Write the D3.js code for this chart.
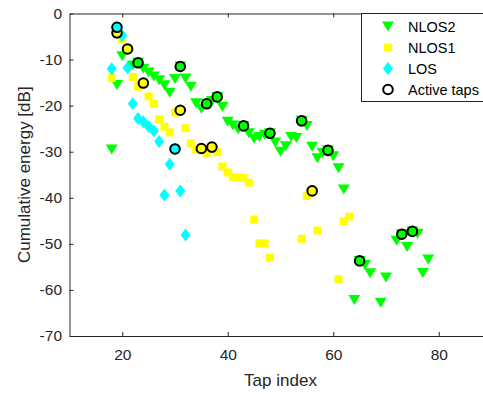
<!DOCTYPE html>
<html>
<head>
<meta charset="utf-8">
<script src="https://cdn.jsdelivr.net/npm/d3@7/dist/d3.min.js"></script>
<style>
  html, body { margin: 0; padding: 0; background: #fff; }
  svg { display: block; font-family: "Liberation Sans", Arial, Helvetica, sans-serif; }
</style>
</head>
<body>
<svg id="chart" width="483" height="394"></svg>
<script>
// Per-scenario taps: [tap index, cumulative energy in dB]
const nlos2 = [
  [18, -29.5], [19, -15.5], [20, -9.3], [22, -11.3], [23, -10.7], [24, -12.0], [25, -12.8],
  [26, -13.7], [27, -14.5], [28, -15.6], [29, -17.2], [30, -14.2], [31, -11.5], [32, -14.1],
  [33, -15.9], [34, -19.5], [35, -20.7], [36, -19.6], [37, -19.0], [38, -18.1], [39, -20.3],
  [40, -23.5], [41, -24.3], [42, -25.2], [43, -24.4], [44, -26.0], [45, -27.2], [46, -26.8],
  [47, -26.3], [48, -26.0], [49, -28.0], [50, -30.0], [51, -28.8], [52, -26.8], [53, -27.0],
  [54, -23.3], [55, -24.4], [56, -28.9], [57, -31.4], [58, -30.3], [59, -29.7], [60, -31.0],
  [61, -33.6], [62, -38.2], [64, -62.2], [65, -53.7], [66, -54.6], [67, -56.4], [69, -62.8],
  [70, -57.3], [72, -49.3], [73, -47.9], [74, -50.7], [75, -47.3], [76, -47.8], [77, -56.3],
  [78, -53.4]
];
const nlos1 = [
  [18, -14.0], [19, -4.2], [20, -5.5], [21, -7.7], [22, -13.8], [23, -15.9], [24, -15.1],
  [25, -18.0], [26, -19.6], [27, -23.0], [28, -24.6], [29, -25.8], [30, -21.5], [31, -21.0],
  [32, -24.9], [33, -28.2], [34, -29.6], [35, -29.3], [36, -30.3], [37, -29.0], [38, -30.1],
  [39, -33.2], [40, -34.5], [41, -35.5], [42, -35.6], [43, -35.7], [44, -36.7], [45, -44.7],
  [46, -49.9], [47, -49.9], [48, -53.0], [54, -48.9], [55, -39.6], [56, -38.5], [57, -47.1],
  [61, -57.7], [62, -45.1], [63, -44.1]
];
const los = [
  [18, -12.0], [19, -3.0], [20, -4.8], [21, -11.8], [22, -19.6], [23, -22.8], [24, -23.5],
  [25, -24.5], [26, -25.5], [27, -27.8], [28, -39.4], [29, -32.7], [30, -29.4], [31, -38.5],
  [32, -48.1]
];
// Taps selected as active in each scenario
const activeNlos2 = [23, 31, 36, 38, 43, 48, 54, 59, 65, 73, 75];
const activeNlos1 = [19, 21, 24, 31, 35, 37, 56];
const activeLos = [19, 30];

const xTicks = [20, 40, 60, 80];
const yTicks = [0, -10, -20, -30, -40, -50, -60, -70];
const legendLabels = ["NLOS2", "NLOS1", "LOS", "Active taps"];

const svg = d3.select("#chart");
const padL = 69.5, padR = 491.5, padT = 13.5, padB = 336;
const axisColor = "#262626";

const x = d3.scaleLinear().domain([10, 90]).range([padL, padR]);
const y = d3.scaleLinear().domain([-70, 0]).range([padB, padT]);

// Marker shapes
const triDown = (w, h) => `M${-w/2},${-h/2}L${w/2},${-h/2}L0,${h/2}Z`;
const square = s => `M${-s/2},${-s/2}h${s}v${s}h${-s}Z`;
const diamond = (w, h) => `M0,${-h/2}L${w/2},0L0,${h/2}L${-w/2},0Z`;

const series = [
  { data: nlos2, active: activeNlos2, color: "#00ff00", path: triDown(12, 10) },
  { data: nlos1, active: activeNlos1, color: "#ffff00", path: square(8) },
  { data: los,   active: activeLos,   color: "#00ffff", path: diamond(10, 13) }
];

const plot = svg.append("g");
series.forEach(s => {
  plot.append("g").selectAll("path").data(s.data).join("path")
    .attr("d", s.path)
    .attr("transform", d => `translate(${x(d[0])},${y(d[1])})`)
    .attr("fill", s.color);
});

// Active taps drawn as outlined circles over the markers
series.forEach(s => {
  const pts = s.data.filter(d => s.active.includes(d[0]));
  plot.append("g").selectAll("circle").data(pts).join("circle")
    .attr("cx", d => x(d[0]))
    .attr("cy", d => y(d[1]))
    .attr("r", 4.8)
    .attr("fill", s.color)
    .attr("stroke", "#000")
    .attr("stroke-width", 2);
});

// Axes (box style with inward ticks)
const fmt = d => String(d);
const gx = svg.append("g").attr("transform", `translate(0,${padB})`)
  .call(d3.axisBottom(x).tickValues(xTicks).tickFormat(fmt).tickSizeInner(-4).tickSizeOuter(0).tickPadding(13));
const gxTop = svg.append("g").attr("transform", `translate(0,${padT})`)
  .call(d3.axisTop(x).tickValues(xTicks).tickFormat("").tickSizeInner(-4).tickSizeOuter(0));
const gy = svg.append("g").attr("transform", `translate(${padL},0)`)
  .call(d3.axisLeft(y).tickValues(yTicks).tickFormat(fmt).tickSizeInner(-4).tickSizeOuter(0).tickPadding(7.5));
const gyRight = svg.append("g").attr("transform", `translate(${padR},0)`)
  .call(d3.axisRight(y).tickValues(yTicks).tickFormat("").tickSizeInner(-4).tickSizeOuter(0));

[gx, gxTop, gy, gyRight].forEach(g => {
  g.select(".domain").attr("stroke", axisColor).attr("stroke-width", 1);
  g.selectAll(".tick line").attr("stroke", axisColor);
  g.selectAll("text").attr("fill", axisColor).style("font-size", "15.5px")
    .style("font-family", "'Liberation Sans', Arial, sans-serif");
});

svg.append("text")
  .attr("x", (padL + padR) / 2).attr("y", 386)
  .attr("text-anchor", "middle").attr("fill", axisColor)
  .style("font-size", "17px")
  .text("Tap index");

svg.append("text")
  .attr("transform", `translate(30,${(padT + padB) / 2}) rotate(-90)`)
  .attr("text-anchor", "middle").attr("fill", axisColor)
  .style("font-size", "17px")
  .text("Cumulative energy [dB]");

// Legend
const lg = svg.append("g");
lg.append("rect")
  .attr("x", 361.5).attr("y", padT).attr("width", 140).attr("height", 88)
  .attr("fill", "#fff").attr("stroke", axisColor).attr("stroke-width", 1);
const rows = [26.5, 47.5, 68.5, 89.5];
const legendMarks = [
  { path: triDown(12, 10), color: "#00ff00" },
  { path: square(8), color: "#ffff00" },
  { path: diamond(10, 13), color: "#00ffff" },
  null
];
legendLabels.forEach((lab, i) => {
  const m = legendMarks[i];
  if (m) {
    lg.append("path").attr("d", m.path)
      .attr("transform", `translate(388,${rows[i]})`).attr("fill", m.color);
  } else {
    lg.append("circle").attr("cx", 388).attr("cy", rows[i]).attr("r", 4.8)
      .attr("fill", "none").attr("stroke", "#000").attr("stroke-width", 2);
  }
  lg.append("text").attr("x", 408).attr("y", rows[i]).attr("dy", "0.35em")
    .attr("fill", "#000").style("font-size", "14.5px").text(lab);
});
</script>
</body>
</html>
